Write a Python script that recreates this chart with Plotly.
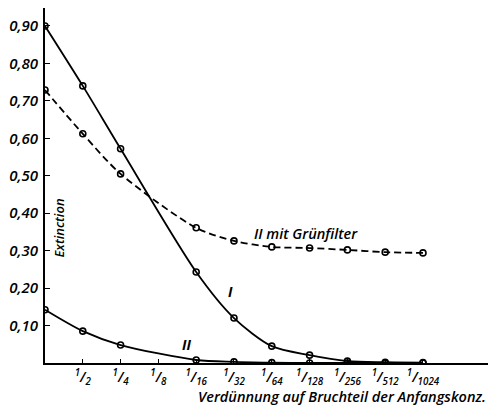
import plotly.graph_objects as go

# dilution steps: 0 = undiluted, k = 1/2^k
x_I = [0, 1, 2, 4, 5, 6, 7, 8, 9, 10]
y_I = [0.90, 0.740, 0.572, 0.243, 0.120, 0.045, 0.021, 0.005, 0.002, 0.001]

x_II = [0, 1, 2, 4, 5, 6, 7, 8, 9, 10]
y_II = [0.142, 0.085, 0.048, 0.008, 0.003, 0.001, 0.0, 0.0, 0.0, 0.0]

x_gf = [0, 1, 2, 4, 5, 6, 7, 8, 9, 10]
y_gf = [0.729, 0.612, 0.505, 0.361, 0.326, 0.310, 0.307, 0.302, 0.296, 0.294]

x_tick_vals = [1, 2, 3, 4, 5, 6, 7, 8, 9, 10]
x_tick_den = ["2", "4", "8", "16", "32", "64", "128", "256", "512", "1024"]
y_tick_vals = [0.1, 0.2, 0.3, 0.4, 0.5, 0.6, 0.7, 0.8, 0.9]
y_tick_text = ["0,10", "0,20", "0,30", "0,40", "0,50", "0,60", "0,70", "0,80", "0,90"]

FONT = "Open Sans"
fig = go.Figure()

marker = dict(symbol="circle-open", size=6, color="black", line=dict(width=1.6, color="black"))

fig.add_trace(go.Scatter(x=x_gf, y=y_gf, mode="lines+markers",
                         line=dict(color="black", width=1.8, dash="7px,4px", shape="spline", smoothing=0.8),
                         marker=marker, showlegend=False))
fig.add_trace(go.Scatter(x=x_I, y=y_I, mode="lines+markers",
                         line=dict(color="black", width=1.8, shape="spline", smoothing=0.8),
                         marker=marker, showlegend=False))
fig.add_trace(go.Scatter(x=x_II, y=y_II, mode="lines+markers",
                         line=dict(color="black", width=1.8, shape="spline", smoothing=0.8),
                         marker=marker, showlegend=False))

tickfont = dict(family=FONT, size=15, color="black", style="italic", weight=600)
fig.update_layout(
    width=491, height=408,
    margin=dict(l=45, r=3, t=8, b=45),
    plot_bgcolor="white", paper_bgcolor="white",
    xaxis=dict(range=[0, 11.72], showgrid=False, zeroline=False,
               showline=True, linecolor="black", linewidth=2,
               ticks="inside", ticklen=4, tickwidth=1.2, tickcolor="black",
               tickvals=x_tick_vals,
               ticktext=["<sup>1</sup>/<sub>" + d + "</sub>" for d in x_tick_den],
               tickfont=dict(family=FONT, size=14, color="black", style="italic", weight=600)),
    yaxis=dict(range=[0, 0.948], showgrid=False, zeroline=False,
               showline=True, linecolor="black", linewidth=2,
               ticks="inside", ticklen=5, tickwidth=1.2, tickcolor="black",
               tickvals=y_tick_vals, ticktext=y_tick_text, tickfont=tickfont,
               ticklabelstandoff=2),
)

labfont = dict(family=FONT, size=13, color="black", style="italic", weight=600)
fig.add_annotation(text="Verdünnung auf Bruchteil der Anfangskonz.", xref="paper", yref="paper",
                   x=1.0, y=-0.094, xanchor="right", yanchor="middle", showarrow=False,
                   font=dict(family=FONT, size=14.5, color="black", style="italic", weight=600))
fig.add_annotation(text="Extinction", xref="x", yref="y", x=0.38, y=0.36, textangle=-90,
                   showarrow=False, font=labfont)
fig.add_annotation(text="II mit Grünfilter", xref="x", yref="y", x=5.48, y=0.345,
                   xanchor="left", showarrow=False,
                   font=dict(family=FONT, size=14.5, color="black", style="italic", weight=600))
fig.add_annotation(text="I", xref="x", yref="y", x=4.9, y=0.19, showarrow=False,
                   font=dict(family=FONT, size=14, color="black", style="italic", weight=700))
fig.add_annotation(text="II", xref="x", yref="y", x=3.75, y=0.05, showarrow=False,
                   font=dict(family=FONT, size=14, color="black", style="italic", weight=700))

fig.write_html("out.html")
